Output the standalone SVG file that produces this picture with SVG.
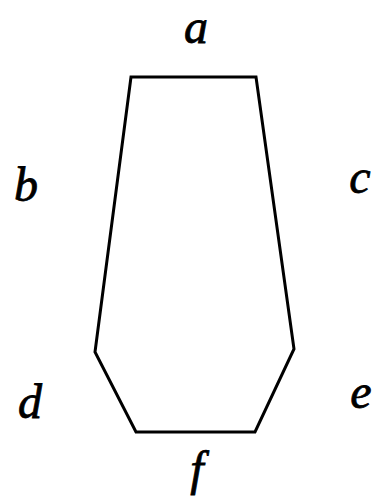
<svg xmlns="http://www.w3.org/2000/svg" width="376" height="496" viewBox="0 0 376 496">
<style>
.lbl{font-family:"Liberation Serif","DejaVu Serif",serif;font-style:italic;font-size:48px;fill:#000;stroke:#000;stroke-width:0.8;text-anchor:middle}
.edge{fill:none;stroke:#000;stroke-width:3;stroke-linejoin:miter}
</style>
<rect width="376" height="496" fill="#fff"/>
<g id="connectors">
<polygon class="edge" points="131,77 256,77 294,349 255,432 136,432 95,352"/>
</g>
<g id="label-a"><text class="lbl" x="196" y="43">a</text></g>
<g id="label-b"><text class="lbl" x="26" y="201">b</text></g>
<g id="label-c"><text class="lbl" x="360" y="193">c</text></g>
<g id="label-d"><text class="lbl" x="30" y="418">d</text></g>
<g id="label-e"><text class="lbl" x="361" y="408">e</text></g>
<g id="label-f"><text class="lbl" x="197" y="485">f</text></g>
</svg>
